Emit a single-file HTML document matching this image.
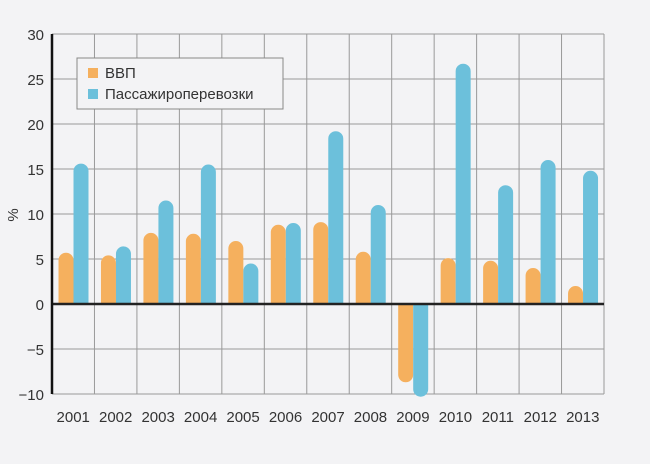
<!DOCTYPE html>
<html><head><meta charset="utf-8"><style>
body{margin:0;background:#f3f3f5;}
svg{display:block;font-family:"Liberation Sans",sans-serif;}
</style></head><body>
<svg id="c" width="650" height="464">
<rect width="650" height="464" fill="#f3f3f5"/>
<g id="grid"></g><g id="bars"></g><g id="axes"></g>
<text x="18" y="215" font-size="15" fill="#333" transform="rotate(-90 18 215)" text-anchor="middle">%</text>
<g>
<rect x="77" y="58" width="206" height="51" fill="#f3f3f5" stroke="#888" stroke-width="1"/>
<rect x="88" y="68" width="10" height="10" fill="#f5b05e"/>
<text x="105" y="78" font-size="15" fill="#333">ВВП</text>
<rect x="88" y="89" width="10" height="10" fill="#6cc0db"/>
<text x="105" y="99" font-size="15" fill="#333">Пассажироперевозки</text>
</g>
</svg>
<script>
const categories=["2001","2002","2003","2004","2005","2006","2007","2008","2009","2010","2011","2012","2013"];
const gdp=[5.7,5.4,7.9,7.8,7.0,8.8,9.1,5.8,-8.7,5.1,4.8,4.0,2.0];
const passenger=[15.6,6.4,11.5,15.5,4.5,9.0,19.2,11.0,-10.3,26.7,13.2,16.0,14.8];
const yTicks=[30,25,20,15,10,5,0,-5,-10];
const NS="http://www.w3.org/2000/svg";
const L=52,R=604,T=34,B=394,ymin=-10,ymax=30;
const cw=(R-L)/categories.length;
function y(v){return T+(ymax-v)/(ymax-ymin)*(B-T);}
function x(i){return L+i*cw;}
function mk(tag,attrs,parent){const e=document.createElementNS(NS,tag);for(const k in attrs)e.setAttribute(k,attrs[k]);parent.appendChild(e);return e;}
const grid=document.getElementById('grid'),bars=document.getElementById('bars'),axes=document.getElementById('axes');
yTicks.forEach(t=>{
  const l=mk('line',{x1:L,x2:R,y1:y(t),y2:y(t),stroke:'#999','stroke-width':1},grid);
  
  
  const tx=mk('text',{x:44,y:y(t)+6,'font-size':15,fill:'#333','text-anchor':'end'},axes);
  tx.textContent=t<0?'\u2212'+Math.abs(t):t;
  
  
});
for(let i=1;i<=categories.length;i++){
  const l=mk('line',{x1:x(i),x2:x(i),y1:T,y2:B,stroke:'#999','stroke-width':1},grid);
  
  
}
function bar(cx,v,color,name){
  const w=15,r=7.5,y0=y(0),yv=y(v);
  let d;
  if(v>=0){const h=y0-yv;const rr=Math.min(r,h);d=`M${cx},${y0}V${yv+rr}A${r},${rr} 0 0 1 ${cx+w},${yv+rr}V${y0}Z`;}
  else{const h=yv-y0;const rr=Math.min(r,h);d=`M${cx},${y0}V${yv-rr}A${r},${rr} 0 0 0 ${cx+w},${yv-rr}V${y0}Z`;}
  const p=mk('path',{d:d,fill:color},bars);
  
  
}
categories.forEach((c,i)=>{
  bar(x(i)+6.5,gdp[i],'#f5b05e','bar-gdp-'+c);
  bar(x(i)+21.5,passenger[i],'#6cc0db','bar-passenger-'+c);
  const t=mk('text',{x:x(i)+cw/2,y:422,'font-size':15,fill:'#333','text-anchor':'middle'},axes);
  t.textContent=c;
  
  
});
const z=mk('line',{x1:L,x2:R,y1:y(0),y2:y(0),stroke:'#222','stroke-width':2.5},axes);


const ya=mk('line',{x1:L,x2:L,y1:T,y2:B,stroke:'#111','stroke-width':2.5},axes);


</script>
</body></html>
